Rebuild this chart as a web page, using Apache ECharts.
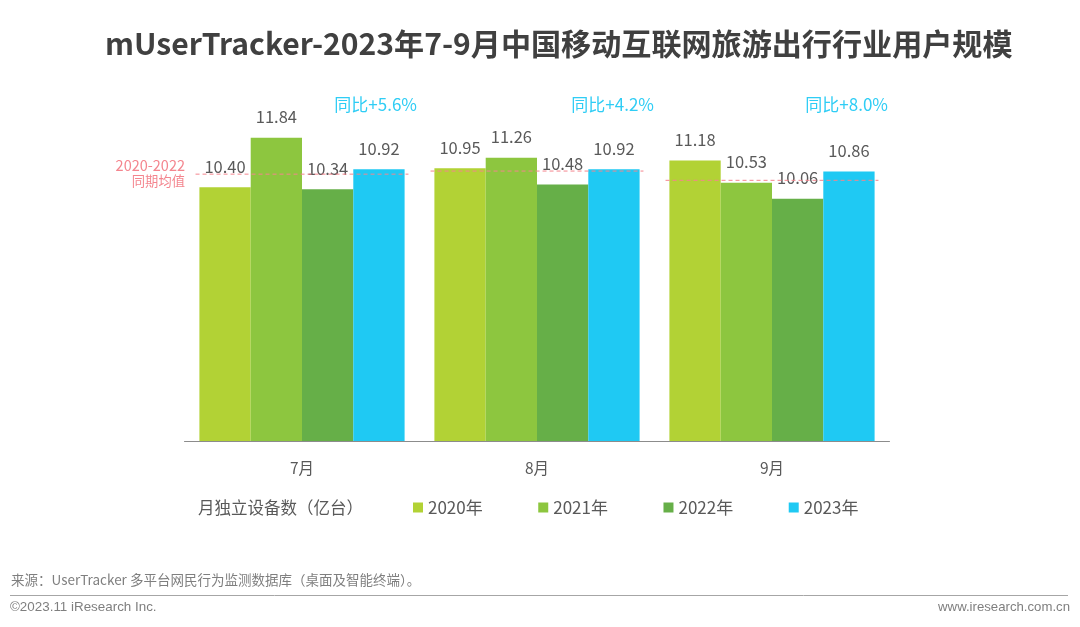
<!DOCTYPE html>
<html>
<head>
<meta charset="utf-8">
<style>
  html, body { margin: 0; padding: 0; background: #fff; }
  #chart { width: 1080px; height: 627px; }
</style>
<script src="https://cdn.jsdelivr.net/npm/echarts@6/dist/echarts.min.js"></script>
</head>
<body>
<div id="chart"></div>
<script>
const months = ["7月", "8月", "9月"];
const values2020 = [10.40, 10.95, 11.18];
const values2021 = [11.84, 11.26, 10.53];
const values2022 = [10.34, 10.48, 10.06];
const values2023 = [10.92, 10.92, 10.86];
const avg2020to2022 = [10.78, 10.87, 10.60];
const yoyLabels = ["同比+5.6%", "同比+4.2%", "同比+8.0%"];
const seriesNames = ["2020年", "2021年", "2022年", "2023年"];

const cjk = '"Noto Sans CJK SC", "Noto Sans", sans-serif';
const grey = "#595959";
const colors = ["#B2D235", "#8DC63F", "#66AF48", "#1FC9F3"];

function barSeries(name, data, color) {
  return {
    name: name,
    type: "bar",
    data: data,
    barWidth: 51.3,
    barGap: 0,
    itemStyle: { color: color },
    label: {
      show: true,
      position: "top",
      distance: 12.5,
      formatter: (p) => p.value.toFixed(2),
      fontFamily: cjk,
      fontSize: 16.5,
      color: grey
    },
    z: 2
  };
}

// dashed average line over each month's group of bars
function renderAvg(params, api) {
  const c = api.coord([api.value(0), api.value(1)]);
  const half = api.size([1, 0])[0] * 0.453;
  return {
    type: "line",
    shape: { x1: c[0] - half, y1: c[1], x2: c[0] + half, y2: c[1] },
    style: { stroke: "#F4858E", lineWidth: 1, lineDash: [4, 3] },
    z2: 10
  };
}

function yoyText(i, right) {
  return {
    type: "text", right: right, top: 96,
    style: { text: yoyLabels[i], font: "17px " + cjk, fill: "#2FCDF5" }
  };
}

const chart = echarts.init(document.getElementById("chart"), null, { renderer: "canvas" });
chart.setOption({
  animation: false,
  color: colors,
  title: {
    text: "mUserTracker-2023年7-9月中国移动互联网旅游出行行业用户规模",
    left: 100,
    top: 24,
    textStyle: { fontFamily: cjk, fontSize: 30.1, fontWeight: "bold", color: "#404040" }
  },
  grid: { left: 184.5, right: 190.5, top: 98, height: 343 },
  xAxis: {
    type: "category",
    data: months,
    axisTick: { show: false },
    axisLine: { lineStyle: { color: "#8c8c8c", width: 1 } },
    axisLabel: { fontFamily: cjk, fontSize: 15.5, color: grey, margin: 19 }
  },
  yAxis: { type: "value", min: 3, max: 13, show: false, splitLine: { show: false } },
  legend: {
    left: 413,
    top: 499,
    padding: 0,
    icon: "rect",
    itemWidth: 10,
    itemHeight: 10,
    itemGap: 55.5,
    data: seriesNames,
    textStyle: { fontFamily: cjk, fontSize: 17, color: grey }
  },
  series: [
    barSeries(seriesNames[0], values2020, colors[0]),
    barSeries(seriesNames[1], values2021, colors[1]),
    barSeries(seriesNames[2], values2022, colors[2]),
    barSeries(seriesNames[3], values2023, colors[3]),
    {
      type: "custom",
      name: "2020-2022同期均值",
      renderItem: renderAvg,
      data: avg2020to2022.map((v, i) => [i, v]),
      encode: { x: 0, y: 1 },
      silent: true,
      z: 5
    }
  ],
  graphic: [
    yoyText(0, 663),
    yoyText(1, 426),
    yoyText(2, 192),
    {
      type: "text", x: 185, y: 158,
      style: { text: "2020-2022", font: "14.5px " + cjk, fill: "#F4858E", align: "right" }
    },
    {
      type: "text", x: 185, y: 174,
      style: { text: "同期均值", font: "13.3px " + cjk, fill: "#F4858E", align: "right" }
    },
    {
      type: "text", left: 198, top: 499,
      style: { text: "月独立设备数（亿台）", font: "16.5px " + cjk, fill: grey }
    },
    {
      type: "text", left: 11, top: 573,
      style: { text: "来源：UserTracker 多平台网民行为监测数据库（桌面及智能终端）。", font: "13.5px " + cjk, fill: "#7f7f7f" }
    },
    {
      type: "line",
      shape: { x1: 10, y1: 595.5, x2: 1068, y2: 595.5 },
      style: { stroke: "#a6a6a6", lineWidth: 1 }
    },
    {
      type: "text", left: 10, top: 601,
      style: { text: "©2023.11 iResearch Inc.", font: '13.4px "Liberation Sans", Arial, sans-serif', fill: "#7f7f7f" }
    },
    {
      type: "text", right: 10, top: 601,
      style: { text: "www.iresearch.com.cn", font: '13.2px "Liberation Sans", Arial, sans-serif', fill: "#7f7f7f" }
    }
  ]
});
</script>
</body>
</html>
